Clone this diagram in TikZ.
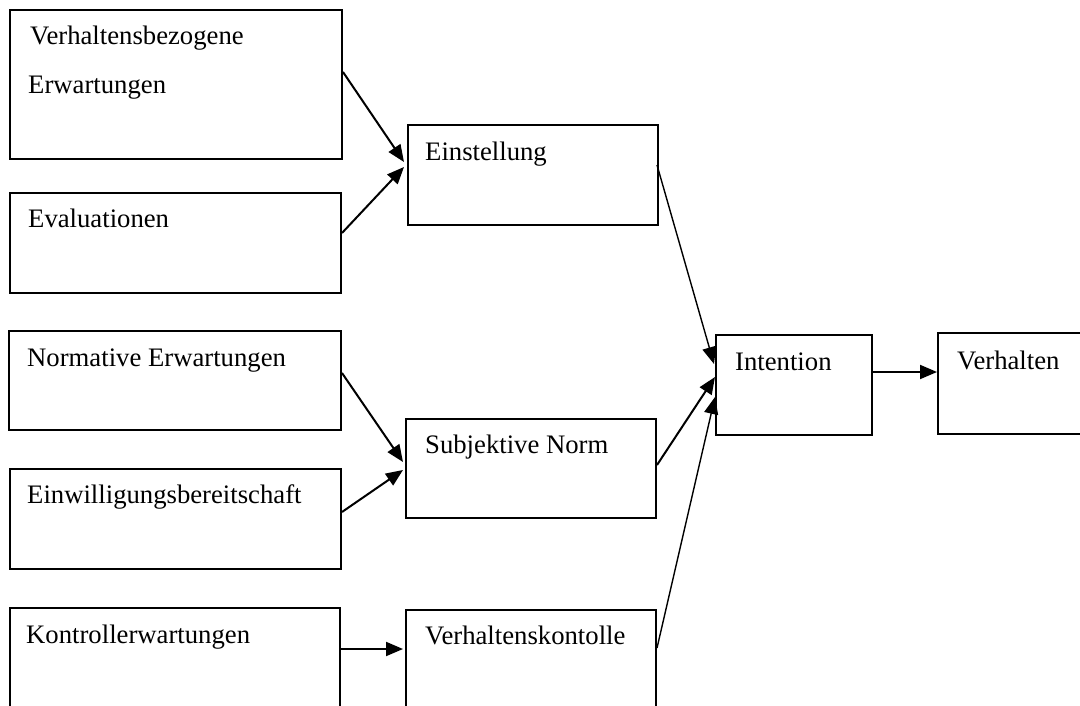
\documentclass[tikz,border=0pt]{standalone}
\usepackage{fontspec}
\setmainfont{Liberation Serif}
\usetikzlibrary{arrows.meta,calc}
\begin{document}
\begin{tikzpicture}[x=1pt,y=-1pt,
  boxnode/.style={draw=black, line width=2pt, rectangle, inner sep=0pt, anchor=north west},
  lbl/.style={anchor=base west, inner sep=0pt, font=\fontsize{26.7}{32}\selectfont},
  conn/.style={line width=2pt, -{Triangle[length=17pt,width=14pt]}},
  thinconn/.style={line width=1.4pt, -{Triangle[length=17pt,width=14pt]}}]
\clip (0,0) rectangle (1080,706);
\fill[white] (0,0) rectangle (1080,706);
% boxes
\node[boxnode, minimum width=332pt, minimum height=149pt] (b1) at (9,9) {};
\node[boxnode, minimum width=331pt, minimum height=100pt] (b2) at (9,192) {};
\node[boxnode, minimum width=332pt, minimum height=99pt] (b3) at (8,330) {};
\node[boxnode, minimum width=331pt, minimum height=100pt] (b4) at (9,468) {};
\node[boxnode, minimum width=330pt, minimum height=140pt] (b5) at (9,607) {};
\node[boxnode, minimum width=250pt, minimum height=100pt] (e1) at (407,124) {};
\node[boxnode, minimum width=250pt, minimum height=99pt] (e2) at (405,418) {};
\node[boxnode, minimum width=250pt, minimum height=140pt] (e3) at (405,609) {};
\node[boxnode, minimum width=156pt, minimum height=100pt] (i) at (715,334) {};
\node[boxnode, minimum width=150pt, minimum height=101pt] (v) at (937,332) {};
% labels
\node[lbl] (t1a) at (30,45) {Verhaltensbezogene};
\node[lbl] (t1b) at (28,94) {Erwartungen};
\node[lbl] (t2) at (28,228) {Evaluationen};
\node[lbl] (t3) at (27,366) {Normative Erwartungen};
\node[lbl] (t4) at (27,503) {Einwilligungsbereitschaft};
\node[lbl] (t5) at (26,643) {Kontrollerwartungen};
\node[lbl] (te1) at (425,161) {Einstellung};
\node[lbl] (te2) at (425,453) {Subjektive Norm};
\node[lbl] (te3) at (425,644) {Verhaltenskontolle};
\node[lbl] (ti) at (735,370) {Intention};
\node[lbl] (tv) at (957,369) {Verhalten};
% connectors
\draw[conn] ($(b1.north east)+(0,63)$) -- ($(e1.north west)+(-3,38)$);
\draw[conn] ($(b2.north east)+(0,41)$) -- ($(e1.north west)+(-3,43)$);
\draw[conn] ($(b3.north east)+(0,43)$) -- ($(e2.north west)+(-2,44)$);
\draw[conn] ($(b4.north east)+(0,44)$) -- ($(e2.north west)+(-2,52)$);
\draw[conn] ($(b5.north east)+(0,42)$) -- ($(e3.north west)+(-2,40)$);
\draw[thinconn] ($(e1.north east)+(-2,41)$) -- ($(i.north west)+(-1,30)$);
\draw[conn] ($(e2.north east)+(0,47)$) -- ($(i.north west)+(0,43)$);
\draw[thinconn] ($(e3.north east)+(0,39)$) -- ($(i.north west)+(0,63)$);
\draw[conn] ($(i.north east)+(0,38)$) -- ($(v.north west)+(0,40)$);
\end{tikzpicture}
\end{document}
